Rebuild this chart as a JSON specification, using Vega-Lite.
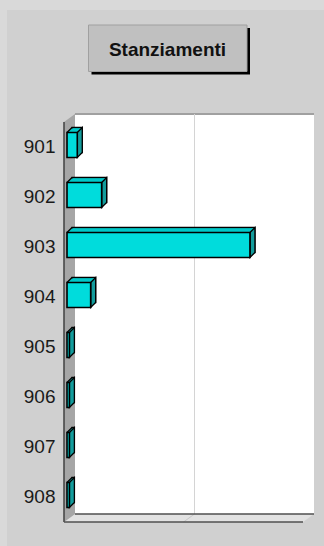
{
  "$schema": "https://vega.github.io/schema/vega-lite/v6.json",
  "width": 239,
  "height": 400,
  "autosize": {"type": "none"},
  "padding": {"left": 67, "top": 120, "right": 18, "bottom": 26},
  "background": "#d9d9d9",
  "config": {"view": {"stroke": null}},
  "data": {"values": [
    {"code": "901", "value": 86},
    {"code": "902", "value": 290},
    {"code": "903", "value": 1531},
    {"code": "904", "value": 198},
    {"code": "905", "value": 20},
    {"code": "906", "value": 20},
    {"code": "907", "value": 20},
    {"code": "908", "value": 20}
  ]},
  "layer": [
    {"data": {"values": [{}]}, "mark": {"type": "rect", "fill": "#d0d0d0"},
     "encoding": {"x": {"value": -60}, "x2": {"value": 257}, "y": {"value": -110}, "y2": {"value": 426}}},
    {"data": {"values": [{}]}, "mark": {"type": "rect", "fill": "#000000"},
     "encoding": {"x": {"value": 24.5}, "x2": {"value": 183}, "y": {"value": -92}, "y2": {"value": -45.5}}},
    {"data": {"values": [{}]}, "mark": {"type": "rect", "fill": "#c0c0c0", "stroke": "#a0a0a0", "strokeWidth": 1},
     "encoding": {"x": {"value": 21.5}, "x2": {"value": 180}, "y": {"value": -95}, "y2": {"value": -48.5}}},
    {"data": {"values": [{}]}, "mark": {"type": "text", "text": "Stanziamenti", "font": "Liberation Sans", "fontSize": 19, "fontWeight": "bold", "align": "center", "baseline": "middle", "fill": "#111111"},
     "encoding": {"x": {"value": 100.5}, "y": {"value": -70.5}}},
    {"data": {"values": [{}]}, "mark": {"type": "rect", "fill": "#ffffff"},
     "encoding": {"x": {"value": 8}, "x2": {"value": 247}, "y": {"value": -6}, "y2": {"value": 394}}},
    {"data": {"values": [{}]}, "mark": {"type": "point", "shape": "M8,-6L247,-6", "size": 4, "filled": false, "stroke": "#a0a0a0", "opacity": 1, "strokeWidth": 2},
     "encoding": {"x": {"value": 0}, "y": {"value": 0}}},
    {"data": {"values": [{}]}, "mark": {"type": "point", "shape": "M127.5,-6L127.5,394L116.5,402", "size": 4, "filled": false, "stroke": "#d4d4d4", "opacity": 1, "strokeWidth": 1},
     "encoding": {"x": {"value": 0}, "y": {"value": 0}}},
    {"data": {"values": [{}]}, "mark": {"type": "point", "shape": "M8,394L247,394L236,402L-3,402Z", "size": 4, "filled": true, "fill": "#e2e2e2", "opacity": 1, "strokeWidth": 0},
     "encoding": {"x": {"value": 0}, "y": {"value": 0}}},
    {"data": {"values": [{}]}, "mark": {"type": "point", "shape": "M127.5,394L116.5,402", "size": 4, "filled": false, "stroke": "#c8c8c8", "opacity": 1, "strokeWidth": 1},
     "encoding": {"x": {"value": 0}, "y": {"value": 0}}},
    {"data": {"values": [{}]}, "mark": {"type": "point", "shape": "M8,394L247,394M-3,402L236,402", "size": 4, "filled": false, "stroke": "#505050", "opacity": 1, "strokeWidth": 1.5},
     "encoding": {"x": {"value": 0}, "y": {"value": 0}}},
    {"data": {"values": [{}]}, "mark": {"type": "point", "shape": "M-3,2L8,-6L8,394L-3,402Z", "size": 4, "filled": true, "fill": "#a6a6a6", "opacity": 1, "strokeWidth": 0},
     "encoding": {"x": {"value": 0}, "y": {"value": 0}}},
    {"data": {"values": [{}]}, "mark": {"type": "point", "shape": "M-3,2L-3,402", "size": 4, "filled": false, "stroke": "#404040", "opacity": 1, "strokeWidth": 1.5},
     "encoding": {"x": {"value": 0}, "y": {"value": 0}}},
    {"mark": {"type": "bar", "fill": "#00c8c8", "stroke": "#000000", "strokeWidth": 1.3, "xOffset": 5, "x2Offset": 5, "yOffset": -5},
     "encoding": {
       "x": {"field": "value", "type": "quantitative", "scale": {"domain": [0, 2000], "nice": false}, "axis": null},
       "y": {"field": "code", "type": "nominal", "sort": null, "scale": {"paddingInner": 0.5, "paddingOuter": 0.25},
             "axis": {"title": null, "domain": false, "ticks": false, "zindex": 1, "labelPadding": 12, "labelOffset": 2, "labelFont": "Liberation Sans", "labelFontSize": 19, "labelColor": "#1a1a1a"}}
     }},
    {"mark": {"type": "bar", "fill": "#00c8c8", "xOffset": 4, "x2Offset": 4, "yOffset": -4},
     "encoding": {"x": {"field": "value", "type": "quantitative"}, "y": {"field": "code", "type": "nominal", "sort": null}}},
    {"mark": {"type": "bar", "fill": "#00c8c8", "xOffset": 3, "x2Offset": 3, "yOffset": -3},
     "encoding": {"x": {"field": "value", "type": "quantitative"}, "y": {"field": "code", "type": "nominal", "sort": null}}},
    {"mark": {"type": "bar", "fill": "#00c8c8", "xOffset": 2, "x2Offset": 2, "yOffset": -2},
     "encoding": {"x": {"field": "value", "type": "quantitative"}, "y": {"field": "code", "type": "nominal", "sort": null}}},
    {"mark": {"type": "bar", "fill": "#00c8c8", "xOffset": 1, "x2Offset": 1, "yOffset": -1},
     "encoding": {"x": {"field": "value", "type": "quantitative"}, "y": {"field": "code", "type": "nominal", "sort": null}}},
    {"mark": {"type": "point", "shape": "M0,0L5,-5L5,20L0,25Z", "size": 4, "filled": true, "fill": "#139c9c", "stroke": "#000000", "strokeWidth": 1.3, "opacity": 1},
     "encoding": {"x": {"field": "value", "type": "quantitative"}, "y": {"field": "code", "type": "nominal", "sort": null, "bandPosition": 0}}},
    {"mark": {"type": "point", "shape": "M0,0L5,-5", "size": 4, "filled": false, "stroke": "#000000", "strokeWidth": 1.3, "opacity": 1},
     "encoding": {"x": {"value": 0}, "y": {"field": "code", "type": "nominal", "sort": null, "bandPosition": 0}}},
    {"mark": {"type": "bar", "fill": "#00dcdc", "stroke": "#000000", "strokeWidth": 1.6},
     "encoding": {"x": {"field": "value", "type": "quantitative"}, "y": {"field": "code", "type": "nominal", "sort": null}}}
  ]
}
